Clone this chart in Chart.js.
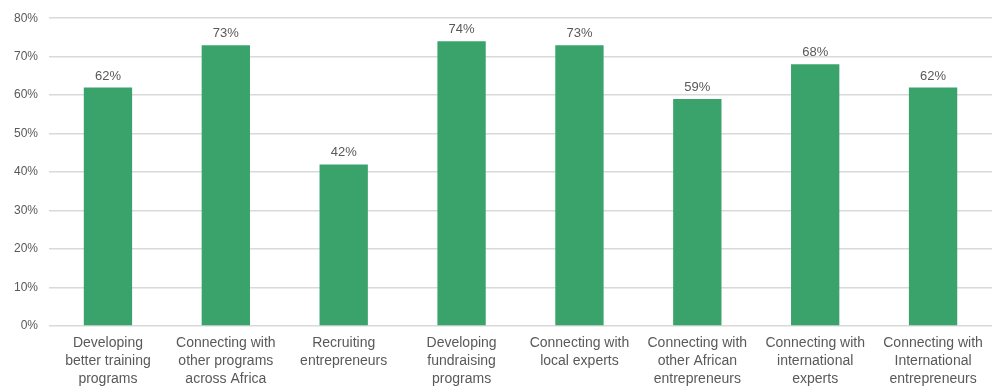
<!DOCTYPE html>
<html>
<head>
<meta charset="utf-8">
<script src="https://cdn.jsdelivr.net/npm/chart.js@4"></script>
<style>
  html, body { margin: 0; padding: 0; background: #fff; }
  #wrap { width: 994px; height: 389px; position: relative; }
</style>
</head>
<body>
<div id="wrap"><canvas id="supportChart"></canvas></div>
<script>
// Share of respondents per support area
const categories = [
    ['Developing', 'better training', 'programs'],
    ['Connecting with', 'other programs', 'across Africa'],
    ['Recruiting', 'entrepreneurs'],
    ['Developing', 'fundraising', 'programs'],
    ['Connecting with', 'local experts'],
    ['Connecting with', 'other African', 'entrepreneurs'],
    ['Connecting with', 'international', 'experts'],
    ['Connecting with', 'International', 'entrepreneurs']
];
const percentages = [62, 73, 42, 74, 73, 59, 68, 62];
const yTicks = [0, 10, 20, 30, 40, 50, 60, 70, 80];

const GRAY_TEXT = '#595959';
const BAR_GREEN = '#3aa36c';

// Prints the value above each bar
const valueLabels = {
    id: 'valueLabels',
    afterDatasetsDraw(chart) {
        const ctx = chart.ctx;
        const meta = chart.getDatasetMeta(0);
        ctx.save();
        ctx.font = '13px "Liberation Sans", Arial, sans-serif';
        ctx.fillStyle = GRAY_TEXT;
        ctx.textAlign = 'center';
        ctx.textBaseline = 'bottom';
        meta.data.forEach((bar, i) => {
            ctx.fillText(percentages[i] + '%', bar.x, bar.y - 5);
        });
        ctx.restore();
    }
};

document.addEventListener('DOMContentLoaded', function() {
    Chart.defaults.font.family = '"Liberation Sans", Arial, sans-serif';
    Chart.defaults.color = GRAY_TEXT;

    new Chart(document.getElementById('supportChart'), {
        type: 'bar',
        data: {
            labels: categories,
            datasets: [{
                data: percentages,
                backgroundColor: BAR_GREEN,
                barPercentage: 0.82,
                categoryPercentage: 0.5
            }]
        },
        options: {
            responsive: true,
            maintainAspectRatio: false,
            animation: false,
            layout: { padding: { top: 10, right: 2, left: 3, bottom: 0 } },
            plugins: {
                legend: { display: false },
                tooltip: { enabled: false }
            },
            scales: {
                x: {
                    grid: { display: false },
                    border: { display: false },
                    afterFit: scale => { scale.height = 63; },
                    ticks: {
                        font: { size: 14, lineHeight: 1.3 },
                        color: GRAY_TEXT,
                        maxRotation: 0,
                        autoSkip: false,
                        padding: 0
                    }
                },
                y: {
                    min: 0,
                    max: 80,
                    afterBuildTicks: axis => {
                        axis.ticks = yTicks.map(v => ({ value: v }));
                    },
                    grid: { color: '#d9d9d9', lineWidth: 1.5, drawTicks: false },
                    border: { display: false },
                    ticks: {
                        font: { size: 12 },
                        color: GRAY_TEXT,
                        padding: 11,
                        callback: v => v + '%'
                    }
                }
            }
        },
        plugins: [valueLabels]
    });
});
</script>
</body>
</html>
